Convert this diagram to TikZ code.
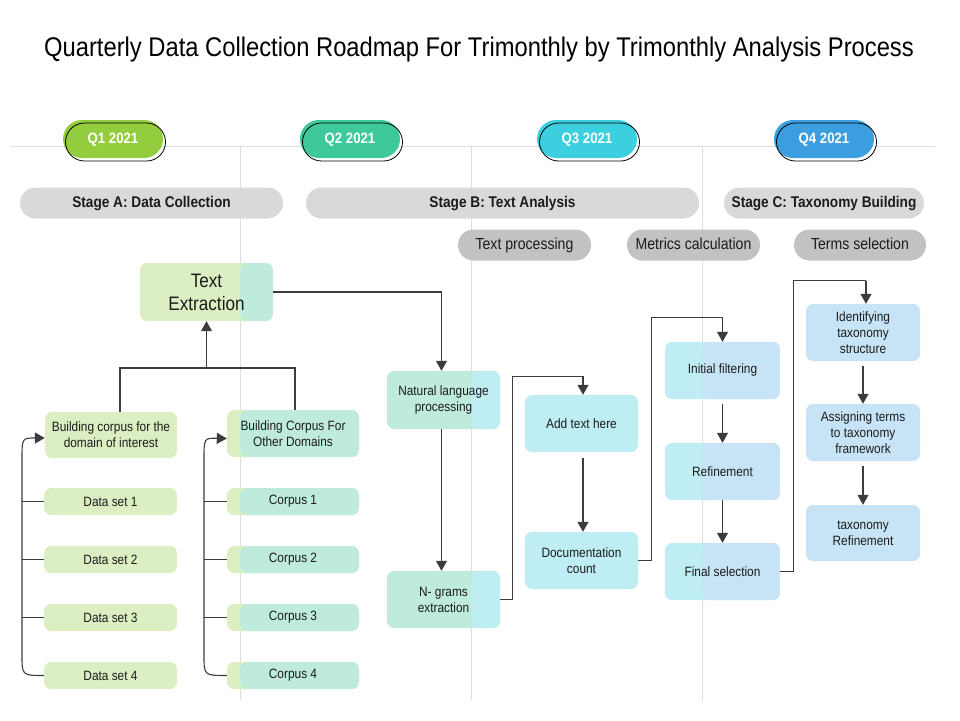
\documentclass[tikz,border=0pt]{standalone}
\usepackage{fontspec}
\setmainfont{Liberation Sans}[FakeStretch=0.88]
\usetikzlibrary{arrows.meta,positioning}
\definecolor{qone}{HTML}{93CD3E}
\definecolor{qtwo}{HTML}{3DC99B}
\definecolor{qthree}{HTML}{3CCFE0}
\definecolor{qfour}{HTML}{3A9EE0}
\definecolor{stagegray}{HTML}{D9D9D9}
\definecolor{subgray}{HTML}{C2C2C2}
\definecolor{gridgray}{HTML}{DDDDDD}
\definecolor{lgreen}{HTML}{DCEFC3}
\definecolor{lteal}{HTML}{BEEBDB}
\definecolor{lcyan}{HTML}{BEEDF3}
\definecolor{lblue}{HTML}{C6E4F5}
\definecolor{linec}{HTML}{3C3C3C}
\definecolor{txt}{HTML}{1C1C1C}
\tikzset{
  box/.style={rounded corners=7pt, align=center, text=txt, inner sep=1pt,
    font=\fontsize{13.5}{16}\selectfont},
  twotone/.style n args={3}{fill=#1, path picture={
    \fill[#2] (#3 |- path picture bounding box.north) rectangle (path picture bounding box.south east);}},
  qpill/.style={rounded corners=19pt, minimum width=100pt, minimum height=38pt,
    text height=1.9ex, text depth=0.2ex, text=white, font=\fontsize{15}{17}\selectfont\bfseries},
  qring/.style={rounded corners=19pt, minimum width=100pt, minimum height=38pt, draw=black, line width=0.8pt},
  stagebar/.style={rounded corners=15.5pt, fill=stagegray, minimum height=31pt, text=txt,
    text height=1.9ex, text depth=0.2ex, font=\fontsize{15.5}{17}\selectfont\bfseries},
  subpill/.style={rounded corners=15.5pt, fill=subgray, minimum height=31pt, minimum width=133pt,
    text height=1.9ex, text depth=0.2ex, text=txt, font=\fontsize{16}{18}\selectfont},
  conn/.style={draw=linec, line width=1.1pt},
  arr/.style={conn, -{Triangle[width=11pt,length=10pt]}},
}
\begin{document}
\begin{tikzpicture}[x=1pt, y=-1pt]
  \useasboundingbox (0,0) rectangle (960,720);
  % title
  \node[font=\fontsize{27}{32}\selectfont, text=black] (title) at (479,50)
    {Quarterly Data Collection Roadmap For Trimonthly by Trimonthly Analysis Process};
  % grid
  \coordinate (g1) at (240,146);
  \coordinate (g2) at (471,146);
  \coordinate (g3) at (702,146);
  \draw[gridgray, line width=0.9pt] (10,146) -- (935,146);
  \foreach \g in {g1,g2,g3}
    \draw[gridgray, line width=0.9pt] (\g) -- ++(0,554);
  % quarters
  \foreach \q/\x/\c in {1/113/qone, 2/350/qtwo, 3/587/qthree, 4/824/qfour}{
    \node[qpill, fill=\c] (q\q) at (\x,139) {Q\q{} 2021};
    \node[qring] at ([xshift=2.5pt,yshift=-3pt]q\q.center) {};
  }
  % stages
  \node[stagebar, minimum width=263pt] (sa) at (151.5,203) {Stage A: Data Collection};
  \node[stagebar, minimum width=393pt] (sb) at (502.5,203) {Stage B: Text Analysis};
  \node[stagebar, minimum width=200pt] (sc) at (824,203) {Stage C: Taxonomy Building};
  \node[subpill] (tp) at (524.5,245) {Text processing};
  \node[subpill] (mc) at (693.5,245) {Metrics calculation};
  \node[subpill, minimum width=132pt] (ts) at (860,245) {Terms selection};
  % stage A
  \node[box, twotone={lgreen}{lteal}{g1}, minimum width=133pt, minimum height=58pt,
    font=\fontsize{19.5}{23}\selectfont] (te) at (206.5,292) {Text\\Extraction};
  \node[box, fill=lgreen, minimum width=132pt, minimum height=46pt] (bc1) at (111,435)
    {Building corpus for the\\domain of interest};
  \node[box, twotone={lgreen}{lteal}{g1}, minimum width=132pt, minimum height=47pt] (bc2) at (293,433.5)
    {Building Corpus For\\Other Domains};
  \foreach \i/\y in {1/501.5, 2/559.5, 3/617.5, 4/675.5}{
    \node[box, fill=lgreen, minimum width=133pt, minimum height=27pt] (ds\i) at (110.5,\y) {Data set \i};
    \node[box, twotone={lgreen}{lteal}{g1}, minimum width=132pt, minimum height=27pt] (cp\i) at (293,\y) {Corpus \i};
  }
  % stage B
  \node[box, twotone={lteal}{lcyan}{g2}, minimum width=113pt, minimum height=58pt] (nlp) at (443.5,400)
    {Natural language\\processing};
  \node[box, twotone={lteal}{lcyan}{g2}, minimum width=113pt, minimum height=57pt] (ngr) at (443.5,599.5)
    {N- grams\\extraction};
  \node[box, fill=lcyan, minimum width=113pt, minimum height=57pt] (add) at (581.5,423.5) {Add text here};
  \node[box, fill=lcyan, minimum width=113pt, minimum height=57pt] (doc) at (581.5,560.5) {Documentation\\count};
  \node[box, twotone={lcyan}{lblue}{g3}, minimum width=115pt, minimum height=57pt] (ini) at (722.5,370.5) {Initial filtering};
  \node[box, twotone={lcyan}{lblue}{g3}, minimum width=115pt, minimum height=57pt] (rfn) at (722.5,471.5) {Refinement};
  \node[box, twotone={lcyan}{lblue}{g3}, minimum width=115pt, minimum height=57pt] (fin) at (722.5,571.5) {Final selection};
  % stage C
  \node[box, fill=lblue, minimum width=114pt, minimum height=57pt] (idt) at (863,332.5)
    {Identifying\\taxonomy\\structure};
  \node[box, fill=lblue, minimum width=114pt, minimum height=57pt] (asg) at (863,432.5)
    {Assigning terms\\to taxonomy\\framework};
  \node[box, fill=lblue, minimum width=114pt, minimum height=56pt] (txr) at (863,533)
    {taxonomy\\Refinement};
  % connectors
  \coordinate (j) at (206.5,368);
  \draw[conn] ([xshift=9pt]bc1.north) |- (j) -| ([xshift=2pt]bc2.north);
  \draw[arr] (j) -- (te.south);
  \draw[arr] (te.east) -| ([xshift=-2pt]nlp.north);
  \coordinate (b1) at (22,0);
  \coordinate (b2) at (204,0);
  \foreach \i in {1,2,3}{
    \draw[conn] (ds\i.west) -- (ds\i.west -| b1);
    \draw[conn] (cp\i.west) -- (cp\i.west -| b2);
  }
  \draw[arr] (ds4.west) .. controls (22,675.5) .. (22,655) -- (22,460)
    .. controls (22,438) .. ([yshift=-3pt]bc1.west);
  \draw[arr] (cp4.west) .. controls (204,675.5) .. (204,655) -- (204,460)
    .. controls (204,438) .. ([yshift=-5pt]bc2.west);
  \draw[arr] ([xshift=-2pt]nlp.south) -- ([xshift=-2pt]ngr.north);
  \draw[arr] (ngr.east) -- ++(12,0) |- ([xshift=1.5pt,yshift=18pt]add.north) -- ([xshift=1.5pt]add.north);
  \draw[arr, shorten <=6pt] ([xshift=1.5pt]add.south) -- ([xshift=1.5pt]doc.north);
  \draw[conn] (doc.east) -- ++(13,0) |- ([yshift=24pt]ini.north);
  \draw[arr] ([yshift=24pt]ini.north) -- (ini.north);
  \draw[arr, shorten <=5pt] (ini.south) -- (rfn.north);
  \draw[arr] (rfn.south) -- (fin.north);
  \draw[conn] (fin.east) -- ++(13,0) |- ([xshift=3pt,yshift=23pt]idt.north);
  \draw[arr] ([xshift=3pt,yshift=23pt]idt.north) -- ([xshift=3pt]idt.north);
  \draw[arr, shorten <=5pt] (idt.south) -- (asg.north);
  \draw[arr, shorten <=5pt] (asg.south) -- (txr.north);
\end{tikzpicture}
\end{document}
